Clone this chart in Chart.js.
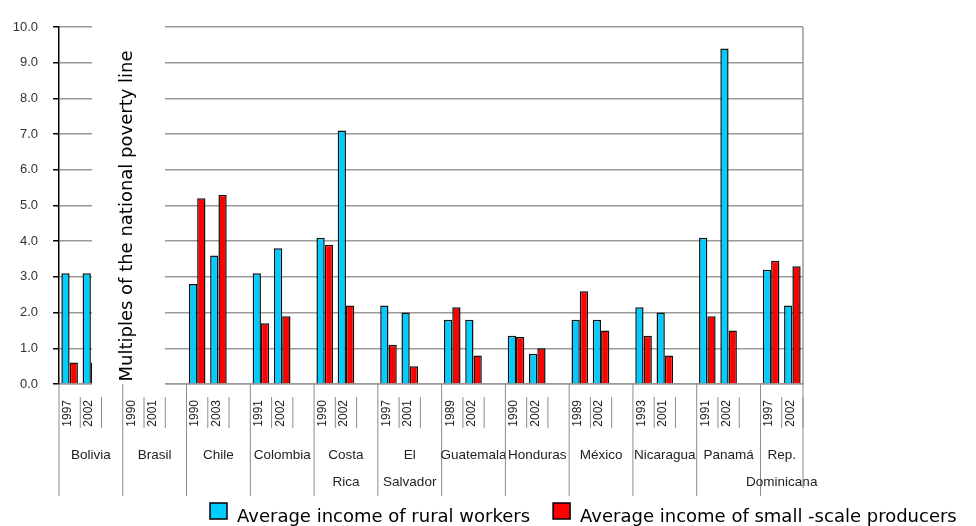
<!DOCTYPE html>
<html>
<head>
<meta charset="utf-8">
<script src="https://cdn.jsdelivr.net/npm/chart.js@4.4.0/dist/chart.umd.min.js"></script>
<style>
  html, body { margin: 0; padding: 0; background: #fff; }
  #wrap { width: 976px; height: 526px; }
</style>
</head>
<body>
<div id="wrap"><canvas id="incomeChart" width="976" height="526"></canvas></div>
<script>
// data
const countries = [["Bolivia"], ["Brasil"], ["Chile"], ["Colombia"], ["Costa", "Rica"], ["El", "Salvador"],
    ["Guatemala"], ["Honduras"], ["México"], ["Nicaragua"], ["Panamá"], ["Rep.", "Dominicana"]];
const surveyYears = [["1997", "2002"], ["1990", "2001"], ["1990", "2003"], ["1991", "2002"], ["1990", "2002"], ["1997", "2001"],
    ["1989", "2002"], ["1990", "2002"], ["1989", "2002"], ["1993", "2001"], ["1991", "2002"], ["1997", "2002"]];
const ruralWorkers = [[3.1, 3.1], [null, null], [2.8, 3.6], [3.1, 3.8], [4.1, 7.1], [2.2, 2.0],
    [1.8, 1.8], [1.35, 0.85], [1.8, 1.8], [2.15, 2.0], [4.1, 9.4], [3.2, 2.2]];
const smallProducers = [[0.6, 0.6], [null, null], [5.2, 5.3], [1.7, 1.9], [3.9, 2.2], [1.1, 0.5],
    [2.15, 0.8], [1.32, 1.0], [2.6, 1.5], [1.35, 0.8], [1.9, 1.5], [3.45, 3.3]];
const seriesNames = ["Average income of rural workers", "Average income of small -scale producers"];
const yTitle = "Multiples of the national poverty line";

// one category per survey year, plus an empty slot between countries
const labels = [], rural = [], small = [];
countries.forEach((c, i) => {
    surveyYears[i].forEach((yr, j) => {
        labels.push(yr);
        rural.push(ruralWorkers[i][j]);
        small.push(smallProducers[i][j]);
    });
    if (i < countries.length - 1) {
        labels.push("");
        rural.push(null);
        small.push(null);
    }
});

const GRID = "#9a9a9a";
const narrow = "'Liberation Sans', Arial, sans-serif";
const wide = "'DejaVu Sans', Verdana, sans-serif";

function line(ctx, x1, y1, x2, y2) {
    ctx.beginPath();
    ctx.moveTo(x1, y1);
    ctx.lineTo(x2, y2);
    ctx.stroke();
}

const axisDecor = {
    id: "axisDecor",
    afterDatasetsDraw(chart) {
        const { ctx, chartArea: a, scales: { x } } = chart;
        const step = x.getPixelForValue(1) - x.getPixelForValue(0);
        ctx.save();

        // the axis title sits on a white panel inside the plot
        ctx.fillStyle = "#fff";
        ctx.fillRect(92, a.top - 6, 73, a.bottom - a.top + 9);
        ctx.save();
        ctx.translate(127, 216);
        ctx.rotate(-Math.PI / 2);
        ctx.fillStyle = "#000";
        ctx.font = "18px " + wide;
        ctx.textAlign = "center";
        ctx.textBaseline = "middle";
        ctx.fillText(yTitle, 0, 0);
        ctx.restore();

        // right border of plot
        ctx.strokeStyle = GRID;
        ctx.lineWidth = 1.5;
        line(ctx, a.right, a.top, a.right, a.bottom);

        // two-level category axis
        ctx.lineWidth = 1;
        ctx.strokeStyle = "#8c8c8c";
        ctx.fillStyle = "#222";
        let idx = 0;
        countries.forEach((name, i) => {
            const start = x.getPixelForValue(idx) - step / 2;
            line(ctx, start, a.bottom, start, a.bottom + 112);
            surveyYears[i].forEach((yr, j) => {
                const cx = x.getPixelForValue(idx + j);
                ctx.save();
                ctx.translate(cx - 2, a.bottom + 16);
                ctx.rotate(-Math.PI / 2);
                ctx.font = "12px " + narrow;
                ctx.textAlign = "right";
                ctx.textBaseline = "middle";
                ctx.fillText(yr, 0, 0);
                ctx.restore();
                line(ctx, cx + step / 2, a.bottom + 13, cx + step / 2, a.bottom + 44);
            });
            const end = Math.min(start + step * 3, a.right);
            ctx.font = "13.5px " + narrow;
            ctx.textAlign = "center";
            ctx.textBaseline = "middle";
            name.forEach((t, k) => ctx.fillText(t, (start + end) / 2, a.bottom + 71 + k * 27));
            idx += 3;
        });
        line(ctx, a.right, a.bottom, a.right, a.bottom + 104);
        ctx.restore();
    },
    afterDraw(chart) {
        const ctx = chart.ctx;
        ctx.save();
        ctx.font = "18px " + wide;
        ctx.textBaseline = "alphabetic";
        let lx = 210;
        chart.data.datasets.forEach(ds => {
            ctx.fillStyle = ds.backgroundColor;
            ctx.fillRect(lx, 503, 17, 16);
            ctx.strokeStyle = "#000";
            ctx.lineWidth = 1.5;
            ctx.strokeRect(lx, 503, 17, 16);
            ctx.fillStyle = "#000";
            ctx.fillText(ds.label, lx + 27, 522);
            lx += 27 + ctx.measureText(ds.label).width + 23;
        });
        ctx.restore();
    }
};

new Chart(document.getElementById("incomeChart"), {
    type: "bar",
    data: {
        labels: labels,
        datasets: [
            { label: seriesNames[0], data: rural, backgroundColor: "#00ccff" },
            { label: seriesNames[1], data: small, backgroundColor: "#ff0000" }
        ]
    },
    options: {
        responsive: false,
        animation: false,
        layout: { padding: { top: 27, right: 173, left: 0, bottom: 0 } },
        datasets: {
            bar: { categoryPercentage: 0.78, barPercentage: 1.0, borderColor: "#111", borderWidth: 1.5 }
        },
        plugins: { legend: { display: false }, tooltip: { enabled: false } },
        scales: {
            x: {
                grid: { display: false },
                border: { display: true, color: GRID, width: 1.5 },
                ticks: { display: false },
                afterFit(s) { s.height = 142; }
            },
            y: {
                min: 0,
                max: 10,
                ticks: {
                    stepSize: 1,
                    callback: v => v.toFixed(1),
                    font: { family: narrow, size: 13 },
                    color: "#333",
                    padding: 15
                },
                grid: { color: GRID, lineWidth: 1.5, tickColor: "#000", tickLength: 6 },
                border: { color: "#000", width: 1.5 },
                afterFit(s) { s.width = 59; }
            }
        }
    },
    plugins: [axisDecor]
});
</script>
</body>
</html>
